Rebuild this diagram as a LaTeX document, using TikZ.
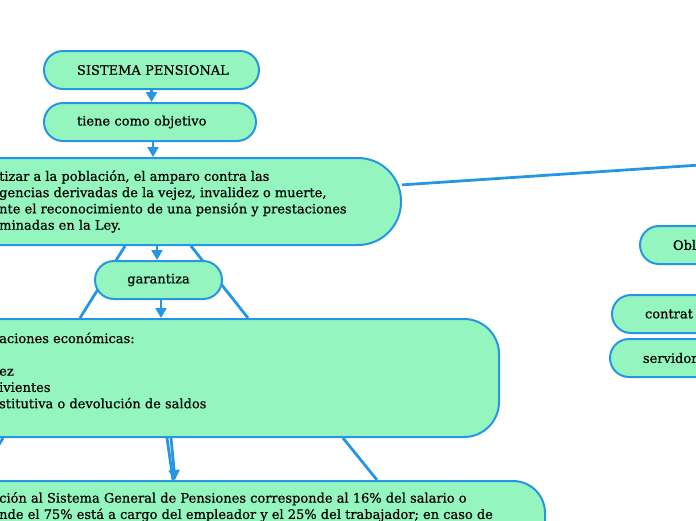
\documentclass[tikz,border=0pt]{standalone}
\usepackage{fontspec}
\setmainfont[FakeBold=0.5]{DejaVu Serif}
\usetikzlibrary{arrows.meta,backgrounds}
\definecolor{fillg}{RGB}{148,246,190}
\definecolor{lineb}{RGB}{38,150,228}
\begin{document}
\begin{tikzpicture}[x=1pt,y=-1pt,
  every node/.style={font=\fontsize{13}{16.3}\selectfont, text=black},
  box/.style={draw=lineb, line width=2pt, fill=fillg, rounded corners=19pt, minimum height=38pt, inner ysep=0pt},
  txt/.style={inner sep=0pt, align=left},
  conn/.style={draw=lineb, line width=2.8pt},
  arr/.style={conn, -{Triangle[width=11pt,length=10pt]}}]
\useasboundingbox (0,0) rectangle (696,520);
\clip (0,0) rectangle (696,520);
% nodes
\node[box, text width=149pt, inner xsep=33pt, align=left] (n0) at (151.5,70) {\mbox{SISTEMA PENSIONAL}};
\node[box, text width=146pt, inner xsep=33pt, align=left] (nt) at (150,122) {\mbox{tiene como objetivo}};
\node[box, minimum width=501pt, minimum height=87pt, rounded corners=43pt] (n1) at (150.5,201.5) {};
\node[txt, anchor=west] (t1) at (-1,201.5) {tizar a la población, el amparo contra las\\gencias derivadas de la vejez, invalidez o muerte,\\nte el reconocimiento de una pensión y prestaciones\\minadas en la Ley.};
\node[box, minimum width=127pt, inner xsep=0pt] (g) at (158.5,280) {garantiza};
\node[box, minimum width=599pt, minimum height=118pt, rounded corners=35pt] (n2) at (199.5,378) {};
\node[txt, anchor=west] (t2) at (-1,370.5) {aciones económicas:\\[16.3pt]ez\\ivientes\\stitutiva o devolución de saldos};
\node[box, minimum width=645pt, minimum height=119pt, rounded corners=32pt] (n3) at (222.5,540.5) {};
\node[txt, anchor=west] (t3) at (-1,507) {ción al Sistema General de Pensiones corresponde al 16\% del salario o\\nde el 75\% está a cargo del empleador y el 25\% del trabajador; en caso de};
\node[box, text width=74pt, inner xsep=33pt, align=left] (r1) at (710,245) {Obl};
\node[box, text width=102pt, inner xsep=33pt, align=left] (r2) at (696,314) {contrat};
\node[box, text width=104pt, inner xsep=33pt, align=left] (r3) at (695,358) {servidor};
\coordinate (off1) at (760,161);
% connectors
\begin{pgfonlayer}{background}
\draw[conn] (n1) -- (off1);
\draw[arr] (n0.south) -- (n0.south |- nt.north);
\draw[arr] ([xshift=3pt]nt.south) -- ([xshift=3pt]nt.south |- n1.north);
\draw[arr] ([xshift=6.5pt]n1.south) -- ([xshift=-1.5pt]g.north);
\draw[conn] ([xshift=-25.5pt]n1.south) -- ([xshift=-119.5pt]n2.north);
\draw[conn] ([xshift=40.5pt]n1.south) -- ([xshift=48.5pt]n2.north);
\draw[arr] ([xshift=2.5pt]g.south) -- ([xshift=-38.5pt]n2.north);
\draw[conn] ([xshift=-32.5pt]n2.south) -- ([xshift=-49.5pt]n3.north);
\draw[arr] ([xshift=-28.5pt]n2.south) -- ([xshift=-47.5pt]n3.north);
\draw[conn] ([xshift=143.5pt]n2.south) -- ([xshift=154.5pt]n3.north);
\draw[conn] ([xshift=-196.5pt]n2.south) -- ([xshift=-245.5pt]n3.north);
\end{pgfonlayer}
\end{tikzpicture}
\end{document}
